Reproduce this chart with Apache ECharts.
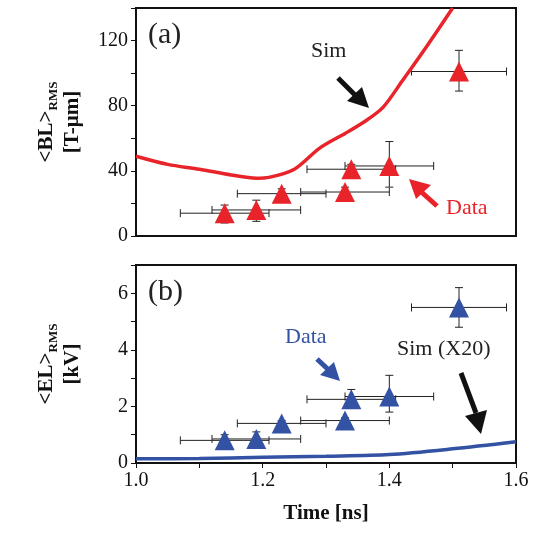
<!DOCTYPE html>
<html><head><meta charset="utf-8">
<script src="https://cdn.jsdelivr.net/npm/echarts@6/dist/echarts.min.js"></script>
<style>body{margin:0}#c{width:543px;height:548px}</style></head>
<body><div id="c"></div>
<script>
// measured time points and errors
const tA = [1.14, 1.19, 1.23, 1.33, 1.34, 1.40, 1.51];
const txErr = [0.07, 0.07, 0.07, 0.07, 0.07, 0.07, 0.075];
const blData = [14, 16, 26, 27, 41, 43, 101];
const blLo = [8, 9, 24, 24, 39, 30, 89];
const blHi = [19, 22, 29, 30, 44, 58, 114];
const elData = [0.8, 0.85, 1.4, 1.5, 2.25, 2.35, 5.5];
const elLo = [0.6, 0.55, 1.3, 1.4, 2.15, 1.8, 4.8];
const elHi = [1.0, 1.1, 1.5, 1.6, 2.6, 3.1, 6.2];
const simBL = [[1.0,49],[1.05,44],[1.1,41],[1.15,37.5],[1.19,35.5],[1.21,36],[1.25,41],[1.29,54],[1.33,63],[1.36,70],[1.39,79],[1.42,95],[1.46,117],[1.5,140]];
const simEL = [[1.0,0.15],[1.1,0.16],[1.2,0.2],[1.3,0.24],[1.4,0.3],[1.5,0.5],[1.6,0.75]];

const font = 'Liberation Serif';
let chart = echarts.init(document.getElementById('c'));

function errBars(vals, lo, hi, xi, yi) {
  let data = tA.map((t, i) => [t, vals[i], t - txErr[i], t + txErr[i], lo[i], hi[i]]);
  return {
    type: 'custom', xAxisIndex: xi, yAxisIndex: yi, data: data, z: 3,
    renderItem: function (params, api) {
      let c = api.coord([api.value(0), api.value(1)]);
      let xl = api.coord([api.value(2), api.value(1)])[0];
      let xr = api.coord([api.value(3), api.value(1)])[0];
      let yl = api.coord([api.value(0), api.value(4)])[1];
      let yh = api.coord([api.value(0), api.value(5)])[1];
      let st = {stroke: '#222', lineWidth: 1};
      return {type: 'group', children: [
        {type: 'line', shape: {x1: xl, y1: c[1], x2: xr, y2: c[1]}, style: st},
        {type: 'line', shape: {x1: xl, y1: c[1]-4, x2: xl, y2: c[1]+4}, style: st},
        {type: 'line', shape: {x1: xr, y1: c[1]-4, x2: xr, y2: c[1]+4}, style: st},
        {type: 'line', shape: {x1: c[0], y1: yl, x2: c[0], y2: yh}, style: st},
        {type: 'line', shape: {x1: c[0]-4, y1: yl, x2: c[0]+4, y2: yl}, style: st},
        {type: 'line', shape: {x1: c[0]-4, y1: yh, x2: c[0]+4, y2: yh}, style: st}
      ]};
    }
  };
}

const axisBase = {
  axisLine: {onZero: false, lineStyle: {color: '#111', width: 2}},
  axisTick: {inside: false, length: 5, lineStyle: {color: '#111'}},
  splitLine: {show: false},
  axisLabel: {fontFamily: font, fontSize: 20, color: '#111'}
};
const rich = {s: {fontSize: 13, fontFamily: font, fontWeight: 'bold', verticalAlign: 'bottom', padding: [8,0,0,0]}};

let option = {
  animation: false,
  textStyle: {fontFamily: font},
  grid: [
    {left: 136, right: 27, top: 8, height: 228, show: true, borderColor: '#111', borderWidth: 2},
    {left: 136, right: 27, top: 265, height: 198, show: true, borderColor: '#111', borderWidth: 2}
  ],
  xAxis: [
    Object.assign({}, axisBase, {gridIndex: 0, type: 'value', min: 1.0, max: 1.6, interval: 0.2, axisLabel: {show: false}, axisTick: {show: false}}),
    Object.assign({}, axisBase, {gridIndex: 1, type: 'value', min: 1.0, max: 1.6, interval: 0.1,
      axisLabel: {fontFamily: font, fontSize: 20, color: '#111', formatter: v => (Math.round(v*10) % 2 === 0 ? v.toFixed(1) : '')},
      name: 'Time [ns]', nameLocation: 'middle', nameGap: 40,
      nameTextStyle: {fontFamily: font, fontSize: 21, fontWeight: 'bold', color: '#111'}})
  ],
  yAxis: [
    Object.assign({}, axisBase, {gridIndex: 0, type: 'value', min: 0, max: 140, interval: 20,
      axisLabel: {fontFamily: font, fontSize: 20, color: '#111', formatter: v => (v % 40 === 0 ? v : '')},
      name: '<BL>{s|RMS}\n[T-μm]', nameLocation: 'middle', nameGap: 50, nameRotate: 90,
      nameTextStyle: {fontFamily: font, fontSize: 21, fontWeight: 'bold', color: '#111', lineHeight: 26, rich: rich}}),
    Object.assign({}, axisBase, {gridIndex: 1, type: 'value', min: 0, max: 7, interval: 1,
      axisLabel: {fontFamily: font, fontSize: 20, color: '#111', formatter: v => (v % 2 === 0 ? v : '')},
      name: '<EL>{s|RMS}\n[kV]', nameLocation: 'middle', nameGap: 50, nameRotate: 90,
      nameTextStyle: {fontFamily: font, fontSize: 21, fontWeight: 'bold', color: '#111', lineHeight: 26, rich: rich}})
  ],
  series: [
    {type: 'line', xAxisIndex: 0, yAxisIndex: 0, data: simBL, showSymbol: false, smooth: 0.3,
      lineStyle: {color: '#e8232a', width: 3.5}},
    errBars(blData, blLo, blHi, 0, 0),
    {type: 'scatter', xAxisIndex: 0, yAxisIndex: 0, data: tA.map((t, i) => [t, blData[i]]),
      symbol: 'triangle', symbolSize: 20, itemStyle: {color: '#e8232a', opacity: 1}, z: 4},
    {type: 'line', xAxisIndex: 1, yAxisIndex: 1, data: simEL, showSymbol: false, smooth: 0.3,
      lineStyle: {color: '#3452a3', width: 3.5}},
    errBars(elData, elLo, elHi, 1, 1),
    {type: 'scatter', xAxisIndex: 1, yAxisIndex: 1, data: tA.map((t, i) => [t, elData[i]]),
      symbol: 'triangle', symbolSize: 20, itemStyle: {color: '#3452a3', opacity: 1}, z: 4}
  ],
  graphic: [
    {type: 'text', left: 148, top: 20, style: {text: '(a)', font: '30px "Liberation Serif"', fill: '#222'}},
    {type: 'text', left: 148, top: 277, style: {text: '(b)', font: '30px "Liberation Serif"', fill: '#222'}},
    {type: 'text', left: 311, top: 40, style: {text: 'Sim', font: '22px "Liberation Serif"', fill: '#222'}},
    {type: 'text', left: 446, top: 197, style: {text: 'Data', font: '22px "Liberation Serif"', fill: '#e8232a'}},
    {type: 'text', left: 285, top: 326, style: {text: 'Data', font: '22px "Liberation Serif"', fill: '#3452a3'}},
    {type: 'text', left: 397, top: 338, style: {text: 'Sim (X20)', font: '22px "Liberation Serif"', fill: '#222'}},
    {type: 'line', shape: {x1: 338, y1: 78, x2: 360, y2: 100}, style: {stroke: '#111', lineWidth: 5}},
    {type: 'polygon', shape: {points: [[369, 108], [347, 101], [362, 87]]}, style: {fill: '#111'}},
    {type: 'line', shape: {x1: 437, y1: 206, x2: 418, y2: 189}, style: {stroke: '#e8232a', lineWidth: 5}},
    {type: 'polygon', shape: {points: [[409, 179], [431, 185], [416, 199]]}, style: {fill: '#e8232a'}},
    {type: 'line', shape: {x1: 317, y1: 359, x2: 333, y2: 374}, style: {stroke: '#3452a3', lineWidth: 5}},
    {type: 'polygon', shape: {points: [[340, 381], [320, 375], [334, 362]]}, style: {fill: '#3452a3'}},
    {type: 'line', shape: {x1: 461, y1: 373, x2: 476, y2: 413}, style: {stroke: '#111', lineWidth: 5}},
    {type: 'polygon', shape: {points: [[481, 434], [465, 416], [487, 410]]}, style: {fill: '#111'}}
  ]
};
chart.setOption(option);
</script></body></html>
